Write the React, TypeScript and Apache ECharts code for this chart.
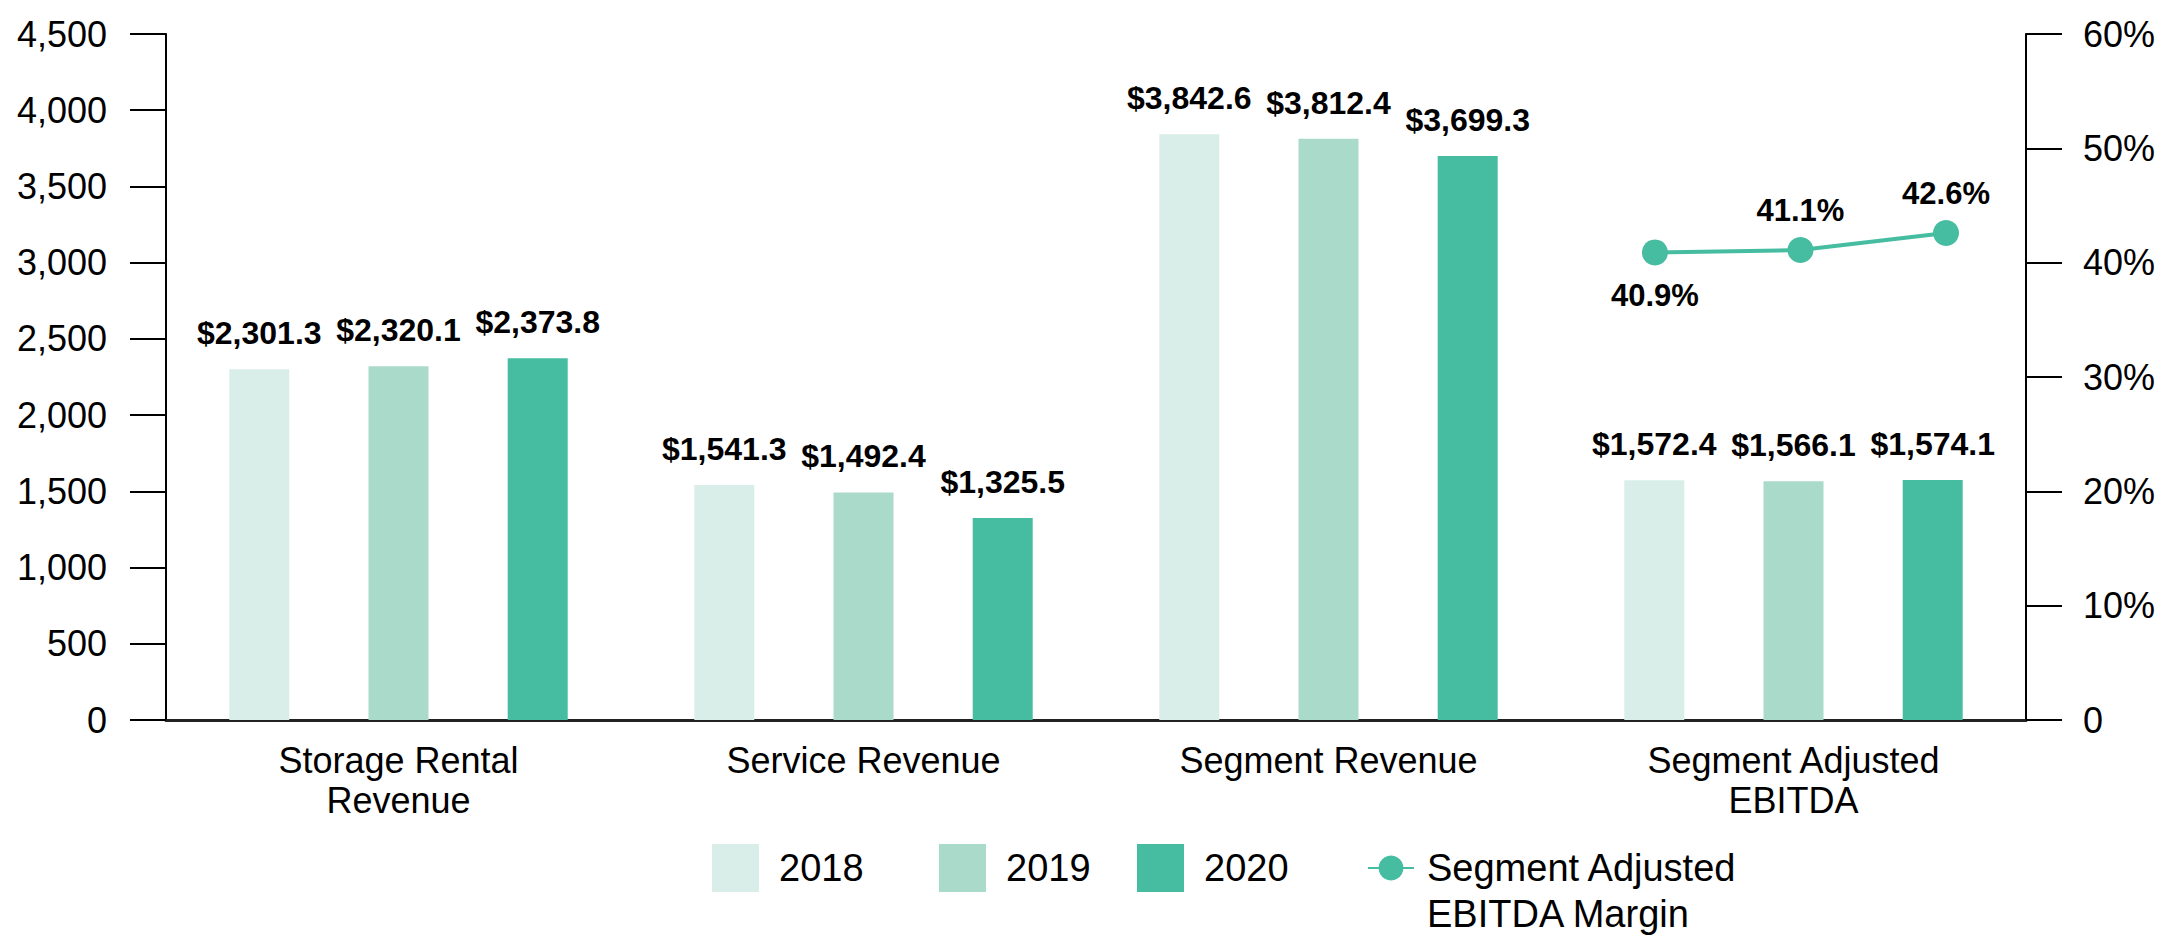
import React, { useEffect, useRef } from "react";
import * as echarts from "echarts";

const categories = [
  "Storage Rental\nRevenue",
  "Service Revenue",
  "Segment Revenue",
  "Segment Adjusted\nEBITDA",
];
const years = ["2018", "2019", "2020"];
const values2018 = [2301.3, 1541.3, 3842.6, 1572.4];
const values2019 = [2320.1, 1492.4, 3812.4, 1566.1];
const values2020 = [2373.8, 1325.5, 3699.3, 1574.1];
const marginName = "Segment Adjusted\nEBITDA Margin";
const marginValues = [40.9, 41.1, 42.6];
const marginLabelPositions = ["bottom", "top", "top"];
const leftAxisMax = 4500;
const leftAxisStep = 500;
const rightAxisMax = 60;
const rightAxisStep = 10;

const barColors = ["#D9EEE8", "#AADACA", "#46BDA0"];
const lineColor = "#46BDA0";
const FONT = "Arial, 'Liberation Sans', Helvetica, sans-serif";

// the margin line sits over the "Segment Adjusted EBITDA" category, one point per year
const marginCategoryIndex = 3;
const marginCenterShift = 0.015;
const marginYearSpread = 0.313;

const fmtMoney = (v: number) =>
  "$" + v.toLocaleString("en-US", { minimumFractionDigits: 1, maximumFractionDigits: 1 });

export default function App() {
  const ref = useRef<HTMLDivElement>(null);

  useEffect(() => {
    document.body.style.margin = "0";
    if (!ref.current) return;
    const chart = echarts.init(ref.current, null, { renderer: "svg" });

    const barSeriesData = [values2018, values2019, values2020];
    const barSeries = years.map((y, i) => ({
      name: y,
      type: "bar",
      xAxisIndex: 0,
      yAxisIndex: 0,
      data: barSeriesData[i],
      barWidth: 60,
      barGap: "132%",
      itemStyle: { color: barColors[i] },
      label: {
        show: true,
        position: "top",
        distance: 20,
        formatter: (p: any) => fmtMoney(p.value),
        fontFamily: FONT,
        fontWeight: "bold",
        fontSize: 32,
        color: "#000",
      },
    }));

    const lineData = marginValues.map((v, i) => ({
      value: [marginCategoryIndex + 0.5 + marginCenterShift + (i - 1) * marginYearSpread, v],
      label: {
        show: true,
        position: marginLabelPositions[i],
        distance: marginLabelPositions[i] === "bottom" ? 15 : 11,
      },
    }));

    const axisLabelStyle = { fontFamily: FONT, fontSize: 36, color: "#000" };
    const legendText = { fontFamily: FONT, fontSize: 38, color: "#000" };
    const squareLegend = (name: string, left: number) => ({
      data: [{ name, icon: "rect" }],
      left,
      top: 844,
      padding: 0,
      itemWidth: 47,
      itemHeight: 48,
      selectedMode: false,
      textStyle: { ...legendText, padding: [0, 0, 0, 15] },
    });

    const option: any = {
      animation: false,
      backgroundColor: "#fff",
      grid: { left: 166, right: 149, top: 34, bottom: 222, containLabel: false },
      xAxis: [
        {
          type: "category",
          data: categories,
          axisLine: { show: true, lineStyle: { color: "#222", width: 3 } },
          axisTick: { show: false },
          axisLabel: { ...axisLabelStyle, interval: 0, lineHeight: 40, margin: 20 },
          splitLine: { show: false },
        },
        {
          type: "value",
          min: 0,
          max: categories.length,
          show: false,
        },
      ],
      yAxis: [
        {
          type: "value",
          position: "left",
          min: 0,
          max: leftAxisMax,
          interval: leftAxisStep,
          axisLine: { show: true, lineStyle: { color: "#000", width: 2 } },
          axisTick: { show: true, inside: false, length: 36, lineStyle: { color: "#000", width: 2 } },
          axisLabel: {
            ...axisLabelStyle,
            margin: 59,
            formatter: (v: number) => v.toLocaleString("en-US"),
          },
          splitLine: { show: false },
        },
        {
          type: "value",
          position: "right",
          min: 0,
          max: rightAxisMax,
          interval: rightAxisStep,
          axisLine: { show: true, lineStyle: { color: "#000", width: 2 } },
          axisTick: { show: true, inside: false, length: 36, lineStyle: { color: "#000", width: 2 } },
          axisLabel: {
            ...axisLabelStyle,
            margin: 57,
            formatter: (v: number) => (v === 0 ? "0" : v + "%"),
          },
          splitLine: { show: false },
        },
      ],
      legend: [
        squareLegend(years[0], 712),
        squareLegend(years[1], 939),
        squareLegend(years[2], 1137),
        {
          data: [marginName],
          left: 1367,
          top: 799,
          padding: 0,
          itemWidth: 46,
          itemHeight: 31,
          selectedMode: false,
          formatter: (name: string) => "\n" + name,
          textStyle: { ...legendText, lineHeight: 46, padding: [0, 0, 0, 8] },
        },
      ],
      series: [
        ...barSeries,
        {
          name: marginName,
          type: "line",
          xAxisIndex: 1,
          yAxisIndex: 1,
          data: lineData,
          symbol: "circle",
          symbolSize: 26,
          lineStyle: { color: lineColor, width: 4 },
          itemStyle: { color: lineColor },
          z: 5,
          label: {
            show: true,
            formatter: (p: any) => p.value[1].toFixed(1) + "%",
            fontFamily: FONT,
            fontWeight: "bold",
            fontSize: 31,
            color: "#000",
          },
        },
      ],
    };

    chart.setOption(option);
    return () => chart.dispose();
  }, []);

  return <div ref={ref} style={{ width: 2175, height: 942 }} />;
}
